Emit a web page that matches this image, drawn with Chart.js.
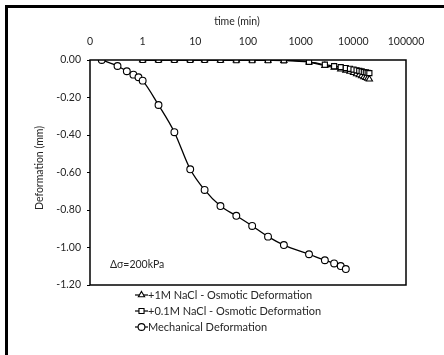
<!DOCTYPE html>
<html>
<head>
<meta charset="utf-8">
<script src="https://cdn.jsdelivr.net/npm/chart.js@4"></script>
<style>
html,body{margin:0;padding:0;background:#fff;}
#wrap{position:relative;width:444px;height:355px;overflow:hidden;}
#frame{position:absolute;left:5px;top:5px;width:460px;height:400px;border-left:3px solid #000;border-top:3px solid #000;}
canvas{position:absolute;left:0;top:0;}
</style>
</head>
<body>
<div id="wrap"><div id="frame"></div><canvas id="c" width="444" height="355"></canvas></div>
<script>
// ---- data ----
const tickValues = [0.1, 1, 10, 100, 1000, 10000, 100000];
const tickLabels = ["0", "1", "10", "100", "1000", "10000", "100000"];
const mechTime = [0.167, 0.333, 0.5, 0.667, 0.833, 1, 2, 4, 8, 15, 30, 60, 120, 240, 480, 1440, 2880, 4320, 5760, 7200];
const mechDef  = [0, -0.032, -0.060, -0.078, -0.092, -0.110, -0.240, -0.385, -0.583, -0.693, -0.779, -0.831, -0.885, -0.942, -0.987, -1.036, -1.068, -1.085, -1.099, -1.115];
const osmTime = [1, 2, 4, 8, 15, 30, 60, 120, 240, 480, 1440, 2880, 4320, 5760, 7200, 8640, 10080, 11520, 12960, 14400, 15840, 17280, 18720, 20160];
const def1M   = [0, 0, 0, 0, 0, -0.001, -0.001, -0.001, -0.002, -0.003, -0.012, -0.030, -0.040, -0.049, -0.055, -0.061, -0.068, -0.074, -0.080, -0.085, -0.090, -0.094, -0.098, -0.102];
const def01M  = [0, 0, 0, 0, 0, 0, -0.001, -0.001, -0.001, -0.002, -0.010, -0.025, -0.033, -0.038, -0.043, -0.047, -0.051, -0.055, -0.058, -0.061, -0.064, -0.066, -0.068, -0.070];
const yTicks = [0, -0.2, -0.4, -0.6, -0.8, -1.0, -1.2];
const seriesNames = ["+1M NaCl - Osmotic Deformation", "+0.1M NaCl - Osmotic Deformation", "Mechanical Deformation"];

const FONT = "Lato, 'Open Sans', sans-serif";
const TXT = '#262626';

function pts(xs, ys){ return xs.map((x,i)=>({x:x, y:ys[i]})); }

const overlay = {
  id:'overlay',
  afterDraw(chart){
    const {ctx, chartArea:a} = chart;
    ctx.save();
    ctx.strokeStyle = '#000'; ctx.lineWidth = 1.5;
    ctx.strokeRect(a.left, a.top, a.right-a.left, a.bottom-a.top);
    ctx.fillStyle = TXT;
    ctx.font = "10.5px " + FONT;
    ctx.textAlign = 'center'; ctx.textBaseline = 'middle';
    ctx.fillText('time (min)', 237, 22);
    ctx.save();
    ctx.translate(40, 168); ctx.rotate(-Math.PI/2);
    ctx.fillText('Deformation (mm)', 0, 0);
    ctx.restore();
    ctx.textAlign = 'left';
    ctx.font = "10.5px " + FONT;
    ctx.fillText('Δσ=200kPa', 110, 265);
    // legend
    ctx.font = "11px " + FONT;
    chart.data.datasets.forEach((ds, i) => {
      const y = 295 + i*16;
      ctx.strokeStyle = '#000'; ctx.lineWidth = 1.2;
      ctx.beginPath(); ctx.moveTo(135, y); ctx.lineTo(148, y); ctx.stroke();
      ctx.fillStyle = '#fff'; ctx.strokeStyle = '#000'; ctx.lineWidth = 1.1;
      Chart.helpers.drawPoint(ctx, {pointStyle: ds.pointStyle, radius: ds.pointRadius, borderWidth: 1.1, rotation:0}, 141.5, y);
      ctx.fillStyle = TXT;
      ctx.fillText(ds.label, 148, y);
    });
    ctx.restore();
  }
};

new Chart(document.getElementById('c'), {
  type: 'line',
  data: {
    datasets: [
      { label: seriesNames[0], data: pts(osmTime, def1M), pointStyle:'triangle', pointRadius:3.6, order:3 },
      { label: seriesNames[1], data: pts(osmTime, def01M), pointStyle:'rect', pointRadius:3.6, order:2 },
      { label: seriesNames[2], data: pts(mechTime, mechDef), pointStyle:'circle', pointRadius:3.4, order:1 }
    ].map(d => Object.assign({
      borderColor:'#000', backgroundColor:'#fff', pointBorderColor:'#000', pointBackgroundColor:'#fff',
      borderWidth:1.3, pointBorderWidth:1.1, cubicInterpolationMode:'monotone', fill:false
    }, d))
  },
  options: {
    responsive:false, animation:false, devicePixelRatio:1,
    layout:{ padding:{ left:30, top:14, right:38, bottom:70 } },
    plugins:{ legend:{display:false}, tooltip:{enabled:false} },
    scales:{
      x:{
        type:'logarithmic', position:'top', min:0.1, max:100000,
        afterBuildTicks(s){ s.ticks = tickValues.map(v=>({value:v})); },
        afterFit(s){ s.height = 46; },
        grid:{ display:false },
        border:{ display:false },
        ticks:{ color:TXT, font:{family:FONT, size:10.5}, padding:4, maxRotation:0,
          callback(v){ const i = tickValues.indexOf(v); return i>=0 ? tickLabels[i] : ''; } }
      },
      y:{
        type:'linear', min:-1.2, max:0,
        afterBuildTicks(s){ s.ticks = yTicks.map(v=>({value:v})); },
        afterFit(s){ s.width = 60; },
        grid:{ display:true, drawOnChartArea:false, drawTicks:true, tickLength:3, color:'#000' },
        border:{ display:false },
        ticks:{ color:TXT, font:{family:FONT, size:10.5}, padding:6,
          callback(v){ return (Math.abs(v)<1e-9 ? 0 : v).toFixed(2); } }
      }
    }
  },
  plugins:[overlay]
});
</script>
</body>
</html>
